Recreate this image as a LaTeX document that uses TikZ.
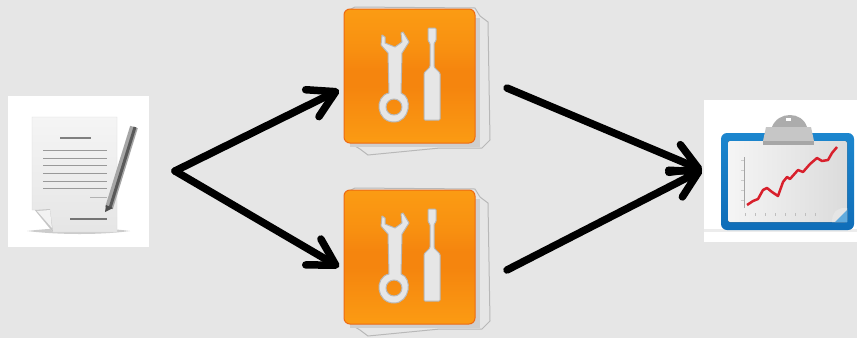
\documentclass[tikz,border=0pt]{standalone}
\usetikzlibrary{arrows.meta}
\definecolor{pagebg}{HTML}{E6E6E6}
\definecolor{edgegray}{HTML}{B8B8B8}
\definecolor{boardblue}{HTML}{1C86CE}
\definecolor{boarddark}{HTML}{0F6DB8}
\definecolor{linered}{HTML}{D8202C}
\definecolor{toolrim}{HTML}{EE6A12}
\definecolor{toollight}{HTML}{FFA916}
\definecolor{toolmid}{HTML}{F5850E}
\pgfdeclareverticalshading{toolorange}{100bp}{
  color(0bp)=(toolrim); color(4bp)=(toollight); color(12bp)=(toollight); color(46bp)=(toolmid);
  color(52bp)=(toolmid); color(60bp)=(toolmid!70!toollight); color(92bp)=(toollight); color(97bp)=(toollight!70!toolrim); color(100bp)=(toolrim)}
\tikzset{
  toolicon/.pic={
    % grey cut-out edge and shadow
    \draw[edgegray, fill=pagebg, line width=1pt] (-65,-64) -- (-55,-69) -- (65,-68) -- (70,-60) -- (78,-54)
      -- (80,64) -- (72,72) -- (30,72) -- (-42,79) -- (-50,73) -- (-60,67) -- cycle;
    \fill[pagebg!90!black] (-60,-58) rectangle (70,71);
    \shade[shading=toolorange, draw=toolrim, line width=1pt, rounded corners=6pt] (-66,-67) rectangle (65,67);
    % wrench
    \draw[edgegray, fill=pagebg, line width=1pt, even odd rule, line join=round]
      (-28,-41) -- (-29,-31) -- (-22,-23) -- (-21,17) .. controls (-36,20) and (-34,46) .. (-16,46)
      .. controls (0,46) and (3,21) .. (-9,17) -- (-8,-23) -- (-1,-34) -- (-7,-44) -- (-9,-43) -- (-8,-34)
      -- (-15,-29) -- (-25,-33) -- (-25,-39) -- cycle
      (-16,31) circle[radius=8];
    % screwdriver
    \draw[edgegray, fill=pagebg, line width=1pt, rounded corners=1pt]
      (18,-48) -- (26,-48) -- (26,-35) -- (24,-33) -- (24,-9) -- (30,-3) -- (30,44) -- (14,44)
      -- (14,-3) -- (20,-9) -- (20,-33) -- (18,-35) -- cycle;
  }
}
\begin{document}
\begin{tikzpicture}[
    x=1pt, y=-1pt,
    whitebox/.style={fill=white, inner sep=0pt},
    toolbox/.style={inner sep=0pt, minimum width=131pt, minimum height=132pt},
    arrowline/.style={line width=7.5pt, line cap=round, -{Straight Barb[length=26pt, width=30pt, round]}}
  ]
  \useasboundingbox (0,0) rectangle (857,338);
  \fill[pagebg] (0,0) rectangle (857,338);

  \node[whitebox, minimum width=141pt, minimum height=151pt] (doc) at (78.5,171.5) {};
  \node[whitebox, minimum width=153pt, minimum height=142pt] (chart) at (780.5,171) {};

  % document icon
  \fill[gray!40] (27,231) .. controls (60,227) and (100,227) .. (130,231) .. controls (100,235) and (60,235) .. cycle;
  \draw[gray!30, top color=gray!8, bottom color=gray!20] (32,117) -- (117,117) -- (117,232) -- (53,232) -- (35,210) -- (32,210) -- cycle;
  \fill[gray!45] (35,210) -- (50,209) -- (53,232) -- cycle;
  \fill[gray!10] (37,211) -- (50,210) -- (52,228) -- cycle;
  \draw[gray, line width=1.5pt] (60,138) -- (91,138);
  \foreach \liney in {150,158,165,173,181,188}
    \draw[gray!80, line width=1pt] (43,\liney) -- (107,\liney);
  \draw[gray!60, line width=1pt] (90,197) -- (107,197);
  \draw[gray!90!black, line width=1.2pt] (70,219) -- (107,219);
  \draw[gray!70, line width=8pt] (109,208) -- (134,127);
  \draw[gray!70!black, line width=3pt] (110,208) -- (135,127);
  \fill[gray!60!black] (105,212) -- (106,205) -- (113,208) -- cycle;

  % tool icons
  \pic at (410,76) {toolicon};
  \pic at (410,257) {toolicon};
  \node[toolbox] (toolA) at (410,76) {};
  \node[toolbox] (toolB) at (410,257) {};

  % chart icon
  \fill[gray!15] (704,229) -- (857,229) -- (857,232) -- (704,232) -- cycle;
  \shade[top color=boardblue, bottom color=boarddark, rounded corners=6pt] (721,133) rectangle (854,230);
  \fill[left color=gray!8, right color=gray!28, rounded corners=2pt] (728,141) rectangle (847,222);
  \fill[gray!65] (772,127) .. controls (778,111) and (802,111) .. (807,127) -- cycle;
  \fill[white] (786,118) rectangle (791,121);
  \fill[gray!45] (766,127) -- (811,127) -- (814,141) -- (763,141) -- cycle;
  \fill[gray!70] (763,141) rectangle (814,145);
  \draw[gray!70, line width=1pt] (744,157) -- (744,208);
  \foreach \ticky in {160,170,...,200}
    \draw[gray!40] (741,\ticky) -- (744,\ticky);
  \foreach \tickx in {745,755,...,815}
    \draw[gray!50, line width=1pt] (\tickx,213) -- (\tickx,216);
  \fill[gray!20] (832,222) .. controls (832,210) and (840,207) .. (847,208) -- (847,222) -- cycle;
  \fill[boardblue!70!white] (835,222) -- (847,210) -- (847,222) -- cycle;
  \draw[linered, line width=2.5pt, line join=round] (747,205) -- (753,201) -- (758,199) -- (763,190) -- (767,188) -- (772,192)
    -- (778,196) -- (783,182) -- (787,177) -- (790,179) -- (798,170) -- (803,172) -- (810,164) -- (817,158)
    -- (822,161) -- (828,160) -- (832,153) -- (837,147);

  % connectors
  \coordinate (fork) at (175,171);
  \coordinate (sink) at (702,170);
  \coordinate (toolAin) at (339,90);
  \coordinate (toolBin) at (339,267);
  \coordinate (toolAout) at (507,88);
  \coordinate (toolBout) at (507,270);
  \draw[arrowline] (fork) -- (toolAin);
  \draw[arrowline] (fork) -- (toolBin);
  \draw[arrowline] (toolAout) -- (sink);
  \draw[arrowline] (toolBout) -- (sink);
\end{tikzpicture}
\end{document}
